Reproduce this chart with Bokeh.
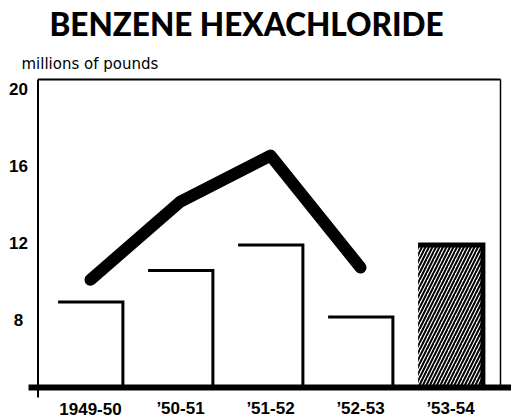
from bokeh.plotting import figure
from bokeh.models import Range1d
from bokeh.core.properties import value
from bokeh.embed import file_html
from bokeh.resources import INLINE

# ---- data ----
title = "BENZENE HEXACHLORIDE"
unit_label = "millions of pounds"
seasons = ["1949-50", "\u201950-51", "\u201951-52", "\u201952-53", "\u201953-54"]
bar_values = [8.44, 10.08, 11.4, 7.66, 11.4]      # last season hatched
line_values = [9.6, 13.66, 16.05, 10.23]          # thick line, first four seasons
y_ticks = [8, 12, 16, 20]
y_tick_labels = ["8", "12", "16", "20"]

# ---- layout helpers (image pixels -> data coordinates) ----
W, H = 511, 419
def xd(px):
    return (px - 90.0) / 90.0
def yd(py):
    return 4.0 + (387.0 - py) / 19.25

BASE = 4.0
TOP = 20.0
idx = list(range(len(seasons)))

p = figure(width=W, height=H, output_backend="svg", toolbar_location=None,
           x_range=Range1d(xd(0), xd(W)), y_range=Range1d(yd(H), yd(0)),
           x_axis_type=None, y_axis_type=None, min_border=0)
p.grid.visible = False
p.outline_line_color = None
p.background_fill_color = "white"
p.border_fill_color = "white"

bw = 0.72
# plain bars (white, open on the left)
p.vbar(x=idx[:4], top=bar_values[:4], bottom=BASE, width=bw,
       fill_color="white", line_color=None)
# hatched last bar
p.vbar(x=idx[4:], top=bar_values[4:], bottom=BASE, width=bw,
       fill_color="white", line_color=None,
       hatch_pattern="/", hatch_color="black", hatch_scale=7, hatch_weight=2)
# top and right edges of every bar
xs = [[i - bw / 2, i + bw / 2, i + bw / 2] for i in idx]
ys = [[v, v, BASE] for v in bar_values]
p.multi_line(xs=xs, ys=ys, line_color="black",
             line_width=[3, 3, 3, 3, 5], line_join="miter")

# thick line
p.line(idx[:len(line_values)], line_values, line_color="black", line_width=12,
       line_cap="round", line_join="round")

# frame
p.line([xd(37.5), xd(37.5)], [yd(397), TOP], line_color="black", line_width=2)
p.line([xd(37.5), xd(500)], [TOP, TOP], line_color="black", line_width=2)
p.line([xd(500), xd(500)], [BASE, TOP], line_color="black", line_width=1.5)
p.line([xd(28), xd(511)], [BASE, BASE], line_color="black", line_width=6)

# texts
p.text(x=[xd(246)], y=[yd(23)], text=[title], text_font=value("Lato Black"),
       text_font_style="bold", text_font_size="31.5px", text_align="center",
       text_baseline="middle", text_color="black")
p.text(x=[xd(21)], y=[yd(63)], text=[unit_label], text_font=value("DejaVu Sans"),
       text_font_size="15px", text_align="left", text_baseline="alphabetic",
       text_color="black")
p.text(x=[xd(18)] * len(y_ticks), y=[t - 9 / 19.25 for t in y_ticks],
       text=y_tick_labels, text_font=value("Liberation Sans"),
       text_font_style="bold", text_font_size="17px", text_align="center",
       text_baseline="middle", text_color="black")
p.text(x=idx, y=[yd(408)] * len(idx), text=seasons,
       text_font=value("Liberation Sans"), text_font_style="bold",
       text_font_size="17px", text_align="center", text_baseline="middle",
       text_color="black")

open("out.html", "w").write(file_html(p, INLINE))
